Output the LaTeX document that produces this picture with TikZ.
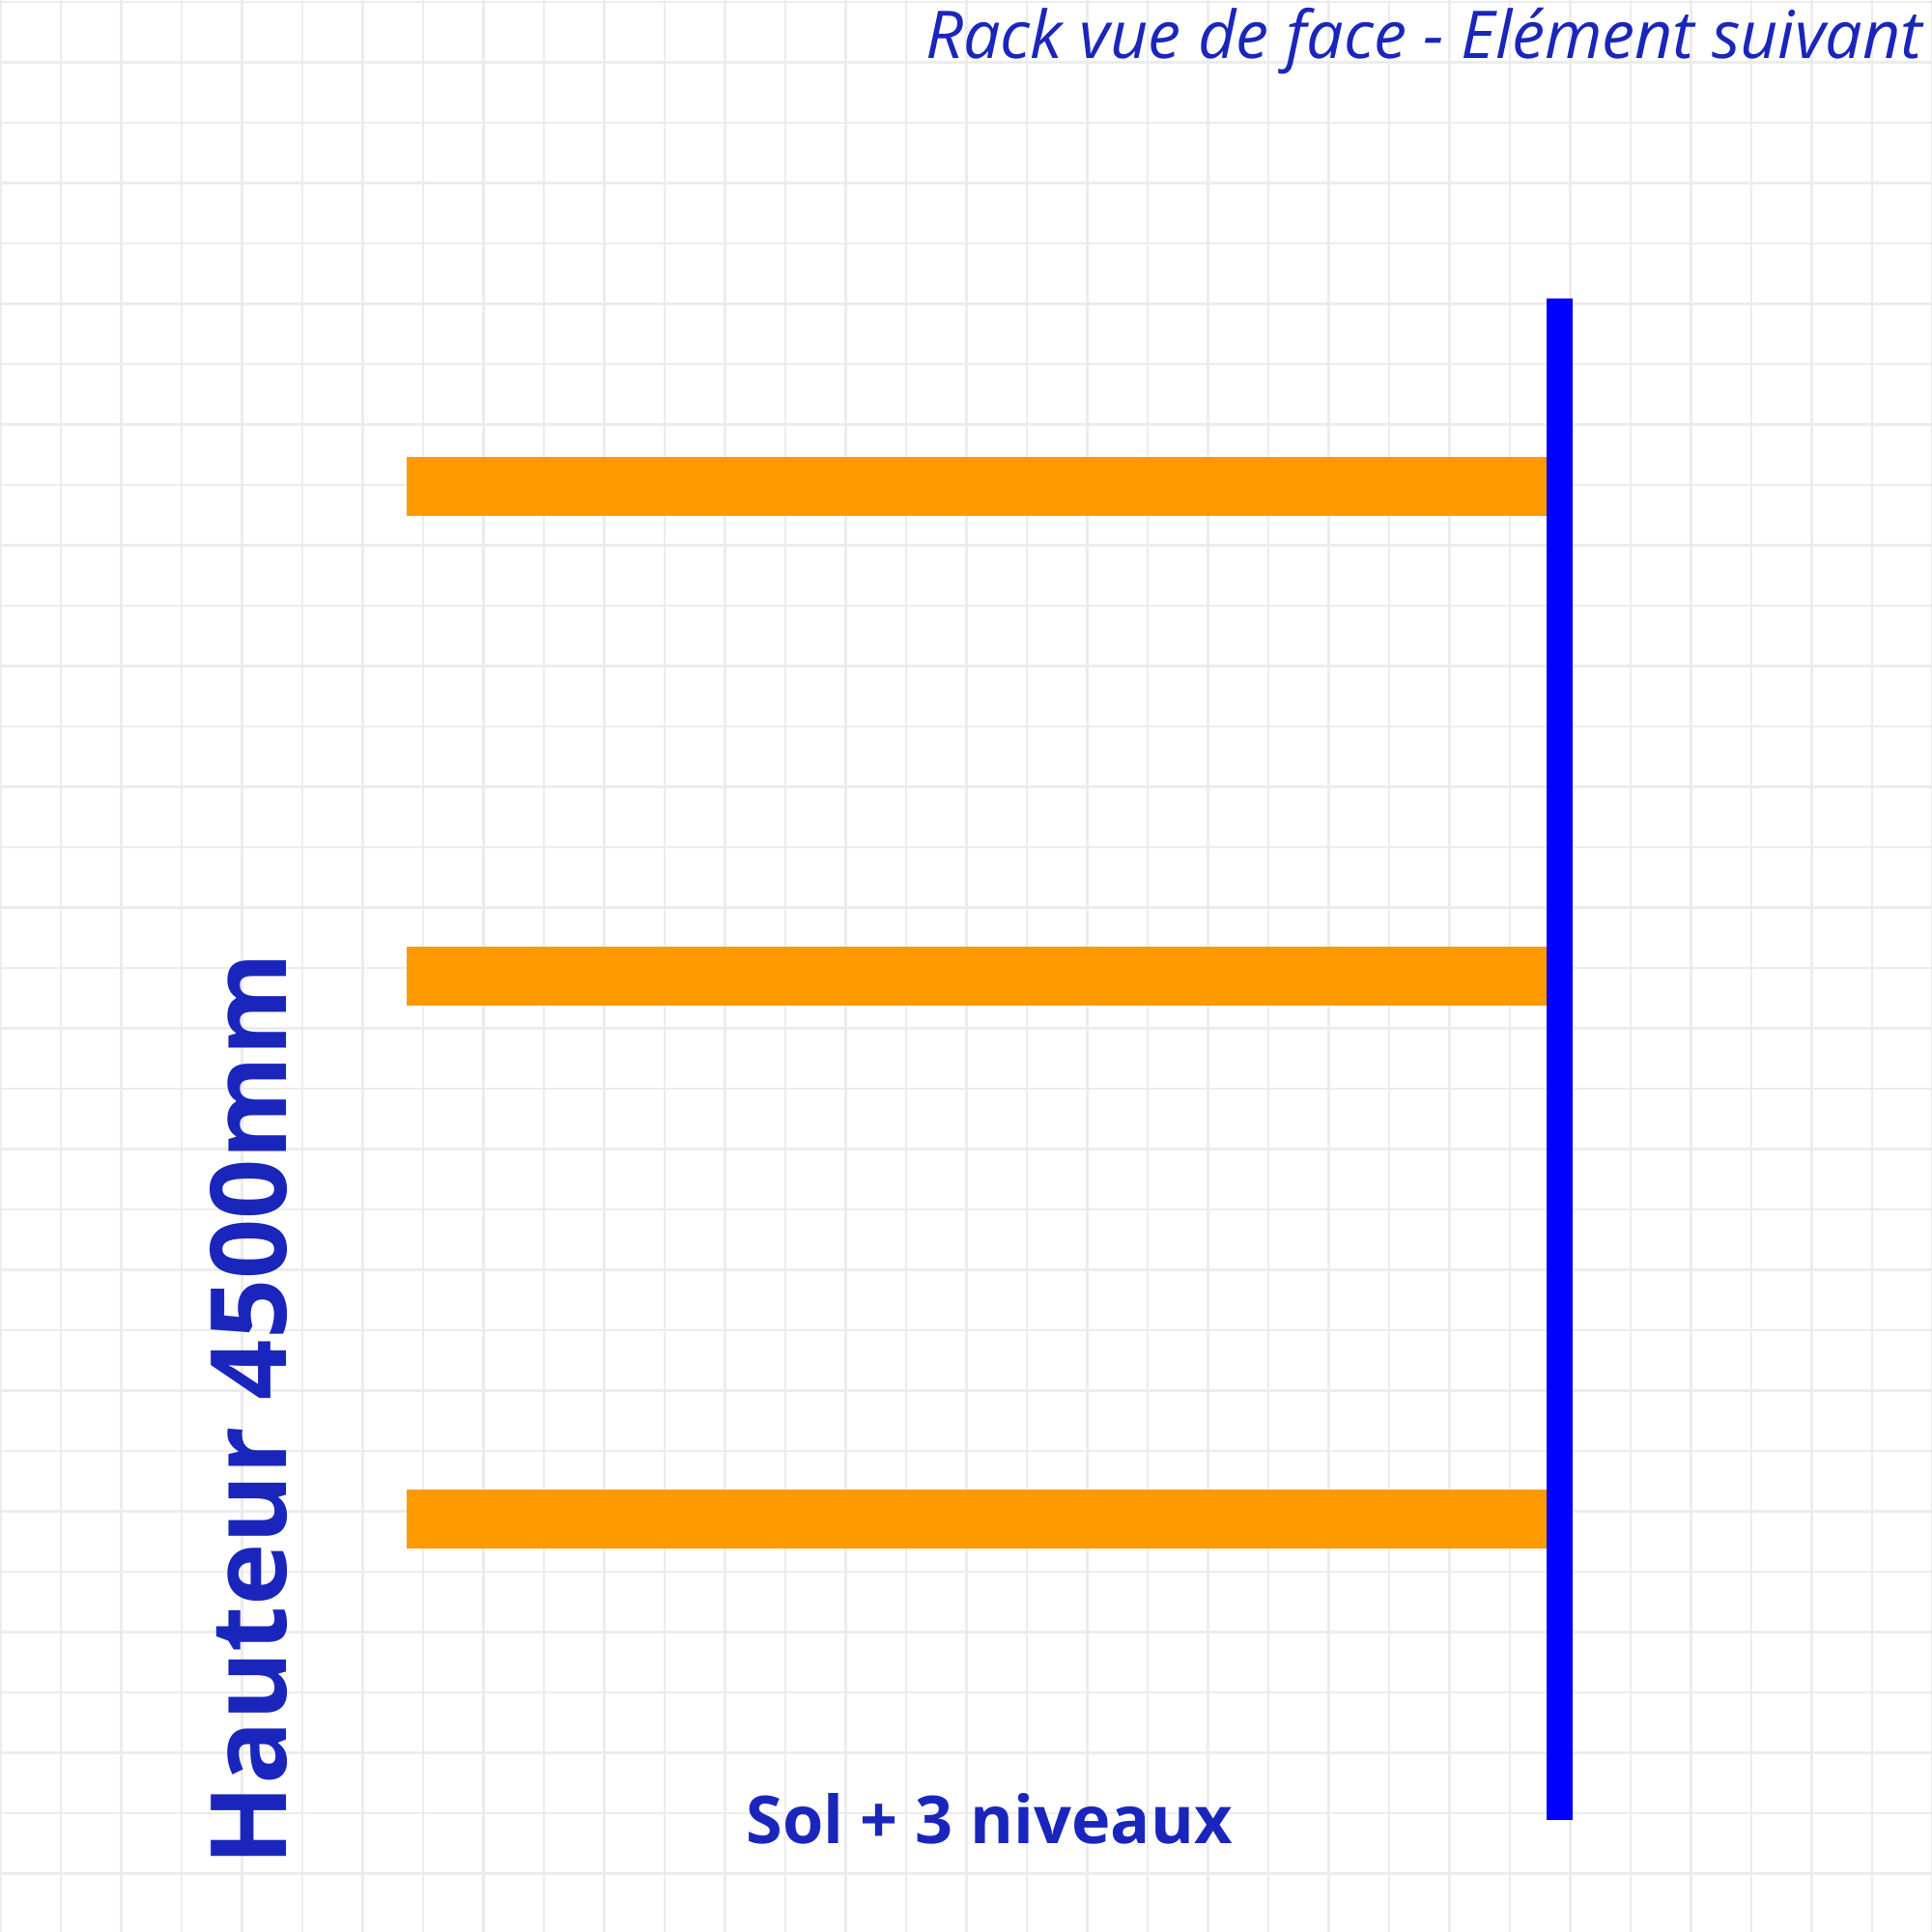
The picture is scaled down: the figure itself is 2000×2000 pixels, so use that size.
\documentclass[tikz,border=0pt]{standalone}
\usepackage{fontspec}
\setmainfont{Open Sans}
\definecolor{gridc}{HTML}{ECECEC}
\definecolor{barblue}{HTML}{0000FF}
\definecolor{barorange}{HTML}{FF9900}
\definecolor{txtblue}{HTML}{1A26BB}
\tikzset{
  gridline/.style={draw=gridc, line width=0.6pt},
  shelf/.style={fill=barorange},
  upright/.style={fill=barblue},
  lbl/.style={text=txtblue, inner sep=0pt, outer sep=0pt}
}
\begin{document}
\begin{tikzpicture}[x=0.01cm, y=-0.01cm]
\useasboundingbox[fill=white] (0,0) rectangle (2000,2000);
\foreach \i in {0,...,32} {
  \draw[gridline] ({0.5+62.5*\i},0) -- ({0.5+62.5*\i},2000);
  \draw[gridline] (0,{2+62.5*\i}) -- (2000,{2+62.5*\i});
}
\fill[shelf] (421,473) rectangle (1601,534);
\fill[shelf] (421,980) rectangle (1601,1041);
\fill[shelf] (421,1542) rectangle (1601,1603);
\fill[upright] (1601,309) rectangle (1628,1884);
\node[lbl, anchor=base east, font=\fontsize{19.4}{23}\selectfont\itshape] (title) at (1990,61) {Rack vue de face - Elément suivant};
\node[lbl, anchor=base, font=\fontsize{19.45}{24}\selectfont\bfseries] (niv) at (1024,1908) {Sol + 3 niveaux};
\node[lbl, anchor=base west, rotate=90, font=\fontsize{31}{38}\selectfont\bfseries] (haut) at (296,1931) {Hauteur 4500mm};
\end{tikzpicture}
\end{document}
